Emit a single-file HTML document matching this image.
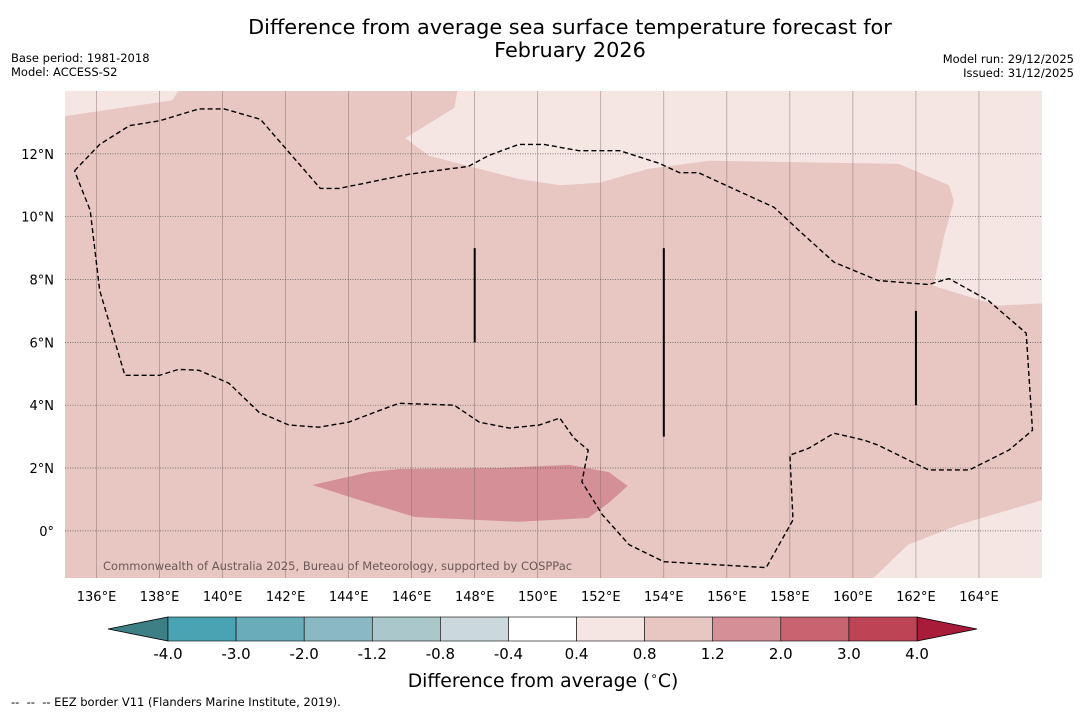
<!DOCTYPE html>
<html><head><meta charset="utf-8">
<style>
body{margin:0;background:#fff;font-family:"DejaVu Sans","Liberation Sans",sans-serif;}
svg{display:block}
</style></head>
<body>
<svg id="chart" width="1085" height="713" xmlns="http://www.w3.org/2000/svg">
<rect width="1085" height="713" fill="#fff"/>
<text x="570" y="34" font-size="20.8" text-anchor="middle" font-family="DejaVu Sans, sans-serif">Difference from average sea surface temperature forecast for</text>
<text x="570" y="57" font-size="20.8" text-anchor="middle" font-family="DejaVu Sans, sans-serif">February 2026</text>
<text x="11" y="62" font-size="11.5">Base period: 1981-2018</text>
<text x="11" y="76" font-size="11.5">Model: ACCESS-S2</text>
<text x="1074" y="63" font-size="11.5" text-anchor="end">Model run: 29/12/2025</text>
<text x="1074" y="77" font-size="11.5" text-anchor="end">Issued: 31/12/2025</text>
<g id="map"></g>
<g id="cbar"></g>
<text x="543" y="687" font-size="18.8" text-anchor="middle">Difference from average (<tspan baseline-shift="super" font-size="12">∘</tspan>C)</text>
<text x="11" y="706" font-size="11.5" xml:space="preserve">--  --  -- EEZ border V11 (Flanders Marine Institute, 2019).</text>
</svg>
<script>
const lonTicks=[136,138,140,142,144,146,148,150,152,154,156,158,160,162,164];
const latTicks=[0,2,4,6,8,10,12];
const levels=["-4.0","-3.0","-2.0","-1.2","-0.8","-0.4","0.4","0.8","1.2","2.0","3.0","4.0"];
const levelColors=["#4aa3b3","#6aacba","#8ab8c3","#aac8cc","#cbd8dc","#ffffff","#f5e6e4","#e8c6c2","#d58f97","#c86470","#bc4454"];
const paleTopLeft=[[135,14],[138.6,14],[138.4,13.7],[135,13.2]];
const paleTop=[[147.45,14],[147.35,13.46],[145.8,12.5],[146.55,11.94],[149.4,11.2],[150.7,11.0],[151.95,11.08],[153.5,11.52],[155.45,11.78],[161.45,11.68],[163.05,11.0],[163.2,10.5],[162.9,9.4],[162.55,7.8],[164.6,7.17],[166,7.24],[166,14]];
const paleBottomRight=[[160.65,-1.5],[161.75,-0.44],[163.35,0.19],[166,0.98],[166,-1.5]];
const warmCore=[[142.85,1.46],[144.65,1.87],[145.6,1.97],[148.8,2.0],[151.0,2.1],[152.25,1.87],[152.85,1.43],[152.25,0.89],[151.6,0.41],[149.4,0.29],[146.1,0.44],[144.35,0.98]];
const eez=[[135.3,11.46],[136.1,12.3],[137.05,12.9],[138.0,13.05],[139.25,13.43],[140.05,13.43],[141.2,13.1],[143.1,10.9],[143.7,10.9],[145.9,11.35],[147.8,11.6],[148.45,11.95],[149.4,12.3],[150.2,12.3],[151.3,12.1],[152.6,12.1],[153.85,11.7],[154.5,11.4],[155.1,11.4],[156.4,10.8],[157.5,10.3],[158.3,9.55],[159.4,8.55],[160.8,7.97],[162.4,7.84],[163.05,8.03],[164.3,7.33],[165.5,6.29],[165.7,3.2],[164.95,2.57],[163.7,1.94],[162.4,1.94],[160.8,2.73],[160.35,2.89],[159.4,3.11],[158.6,2.63],[158.0,2.41],[158.1,0.35],[157.25,-1.17],[154.0,-0.98],[152.9,-0.44],[152.05,0.51],[151.4,1.56],[151.6,2.57],[151.15,2.95],[150.7,3.59],[150.05,3.37],[149.1,3.27],[148.15,3.46],[147.35,4.0],[145.6,4.06],[145.0,3.84],[144.0,3.46],[143.05,3.3],[142.1,3.37],[141.15,3.78],[140.2,4.7],[139.25,5.11],[138.6,5.14],[138.0,4.95],[136.9,4.95],[136.1,7.65],[135.8,10.2],[135.3,11.46]];
const eezSegments=[[148,9,6],[154,9,3],[162,7,4]];

const NS="http://www.w3.org/2000/svg";
const X0=65,X1=1042,Y0=91,Y1=578,LON0=135,LON1=166,LAT0=-1.5,LAT1=14;
const xS=l=>X0+(l-LON0)/(LON1-LON0)*(X1-X0);
const yS=a=>Y1-(a-LAT0)/(LAT1-LAT0)*(Y1-Y0);
function mk(tag,attrs,parent){const e=document.createElementNS(NS,tag);for(const k in attrs)e.setAttribute(k,attrs[k]);parent.appendChild(e);return e;}
const map=document.getElementById('map');
const bg=mk('rect',{x:X0,y:Y0,width:X1-X0,height:Y1-Y0,fill:'#e8c6c2'},map);


const pts=a=>a.map(p=>xS(p[0]).toFixed(1)+','+yS(p[1]).toFixed(1)).join(' ');
[[paleTopLeft,'#f5e6e4','pale-region-northwest'],[paleTop,'#f5e6e4','pale-region-north'],[paleBottomRight,'#f5e6e4','pale-region-southeast'],[warmCore,'#d58f97','warm-core-region']].forEach(r=>{
  const p=mk('polygon',{points:pts(r[0]),fill:r[1]},map);
  
  
});
lonTicks.forEach(l=>{
  const g=mk('line',{x1:xS(l),x2:xS(l),y1:Y0,y2:Y1,stroke:'#8a6f6c','stroke-width':0.6,opacity:0.8},map);
  
  
  const t=mk('text',{x:xS(l),y:Y1+23,'font-size':13,'text-anchor':'middle'},map);
  t.textContent=l+'°E';
  
  
});
latTicks.forEach(a=>{
  const g=mk('line',{x1:X0,x2:X1,y1:yS(a),y2:yS(a),stroke:'#555','stroke-width':0.7,'stroke-dasharray':'1,1.5'},map);
  
  
  const t=mk('text',{x:X0-11,y:yS(a)+5,'font-size':13,'text-anchor':'end'},map);
  t.textContent=a===0?'0°':a+'°N';
  
  
});
const ez=mk('polyline',{points:pts(eez),fill:'none',stroke:'#000','stroke-width':1.4,'stroke-dasharray':'5,3'},map);


eezSegments.forEach(s=>{
  const l=mk('line',{x1:xS(s[0]),x2:xS(s[0]),y1:yS(s[1]),y2:yS(s[2]),stroke:'#000','stroke-width':2},map);
  
  
});
const cr=mk('text',{x:103,y:570,'font-size':11.5,fill:'#6b5a58'},map);
cr.textContent='Commonwealth of Australia 2025, Bureau of Meteorology, supported by COSPPac';


const cb=document.getElementById('cbar');
const CB0=168,CB1=917,CBY=617,CBH=24,n=levelColors.length,w=(CB1-CB0)/n;
const lt=mk('polygon',{points:`${CB0},${CBY} ${CB0},${CBY+CBH} 108,${CBY+CBH/2}`,fill:'#3d7f85',stroke:'#000','stroke-width':0.8},cb);


const rt=mk('polygon',{points:`${CB1},${CBY} ${CB1},${CBY+CBH} 977,${CBY+CBH/2}`,fill:'#a81c3a',stroke:'#000','stroke-width':0.8},cb);


levelColors.forEach((c,i)=>{
  const r=mk('rect',{x:CB0+i*w,y:CBY,width:w,height:CBH,fill:c,stroke:'#000','stroke-width':0.6},cb);
  
  
});
levels.forEach((s,i)=>{
  const t=mk('text',{x:CB0+i*w,y:CBY+CBH+18,'font-size':15,'text-anchor':'middle'},cb);
  t.textContent=s;
  
  
});
</script>
</body></html>
